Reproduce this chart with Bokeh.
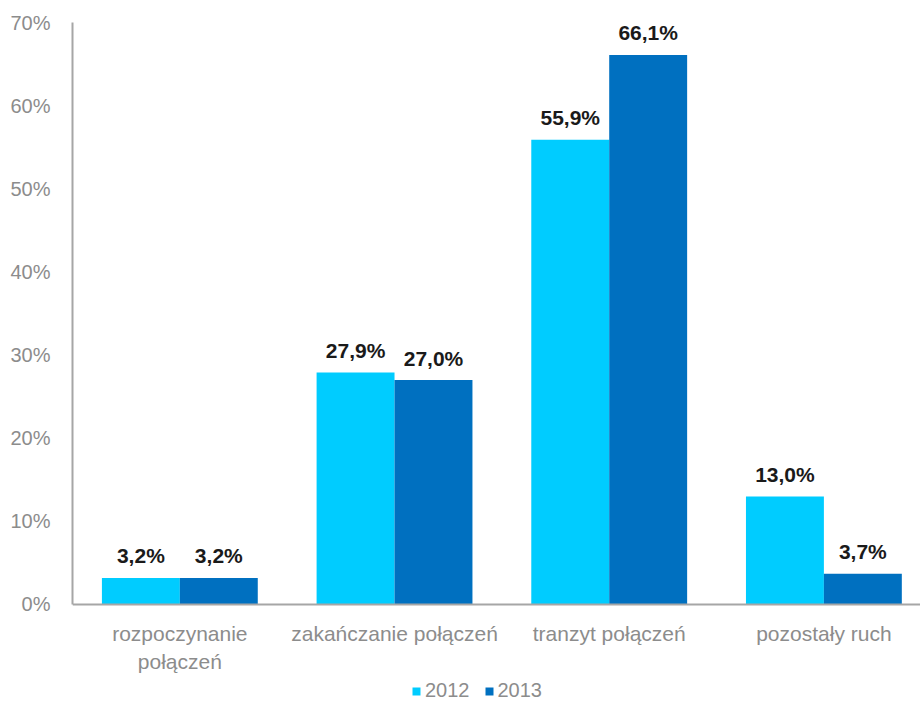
from bokeh.plotting import figure
from bokeh.models import ColumnDataSource, FixedTicker, Range1d, Legend, LegendItem, Span
from bokeh.embed import file_html
from bokeh.resources import INLINE
from bokeh.core.properties import value

categories = ["rozpoczynanie\npołączeń", "zakańczanie połączeń", "tranzyt połączeń", "pozostały ruch"]
series_names = ["2012", "2013"]
values_2012 = [3.2, 27.9, 55.9, 13.0]
values_2013 = [3.2, 27.0, 66.1, 3.7]
y_ticks = [0, 10, 20, 30, 40, 50, 60, 70]

colors = ["#00CCFF", "#0070C0"]
bw = 0.363
centers = [i + 0.5 for i in range(len(categories))]

p = figure(frame_width=848, frame_height=689,
           output_backend="svg", toolbar_location=None, x_axis_location=None,
           x_range=Range1d(0, 3.95), y_range=Range1d(-12.87, 70),
           min_border_left=72, min_border_right=0, min_border_top=22, min_border_bottom=0)
p.outline_line_color = None
p.grid.visible = False
p.background_fill_color = "white"

renderers = []
for k, (vals, col) in enumerate(zip([values_2012, values_2013], colors)):
    xs = [c + (k - 0.5) * bw for c in centers]
    src = ColumnDataSource(dict(x=xs, top=vals, lab=[f"{v:.1f}%".replace(".", ",") for v in vals]))
    r = p.vbar(x="x", top="top", width=bw, bottom=0, source=src, fill_color=col, line_color=None)
    renderers.append(r)
    p.text(x="x", y="top", text="lab", source=src, text_align="center", text_baseline="middle",
           y_offset=-22, text_font=value("Liberation Sans"), text_font_style="bold",
           text_font_size="21px", text_color="#1a1a1a")

# baseline (x axis line at 0)
p.add_layout(Span(location=0, dimension="width", line_color="#a6a6a6", line_width=2))

# category labels under the baseline
cat_src = ColumnDataSource(dict(x=centers, y=[0] * len(centers), t=categories))
p.text(x="x", y="y", text="t", source=cat_src, text_align="center", text_baseline="top",
       y_offset=18, text_font=value("Liberation Sans"), text_font_size="21px",
       text_color="#8c8c8c", text_line_height=1.2)

p.yaxis.ticker = FixedTicker(ticks=y_ticks)
p.yaxis.bounds = (0, 70)
p.yaxis.major_label_overrides = {t: f"{t}%" for t in y_ticks}
p.yaxis.major_tick_line_color = None
p.yaxis.minor_tick_line_color = None
p.yaxis.axis_line_color = "#a6a6a6"
p.yaxis.axis_line_width = 2
p.yaxis.major_label_text_font = "Liberation Sans"
p.yaxis.major_label_text_font_size = "20px"
p.yaxis.major_label_text_color = "#8c8c8c"
p.yaxis.major_label_standoff = 16

legend = Legend(items=[LegendItem(label=n, renderers=[r]) for n, r in zip(series_names, renderers)],
                orientation="horizontal", location=(339, 9),
                glyph_width=10, glyph_height=10, spacing=14, padding=0, margin=0,
                label_text_font="Liberation Sans", label_text_font_size="20px",
                label_text_color="#8c8c8c", label_standoff=4, label_height=20,
                border_line_color=None, background_fill_alpha=0)
p.add_layout(legend, "center")

open("out.html", "w").write(file_html(p, INLINE))
